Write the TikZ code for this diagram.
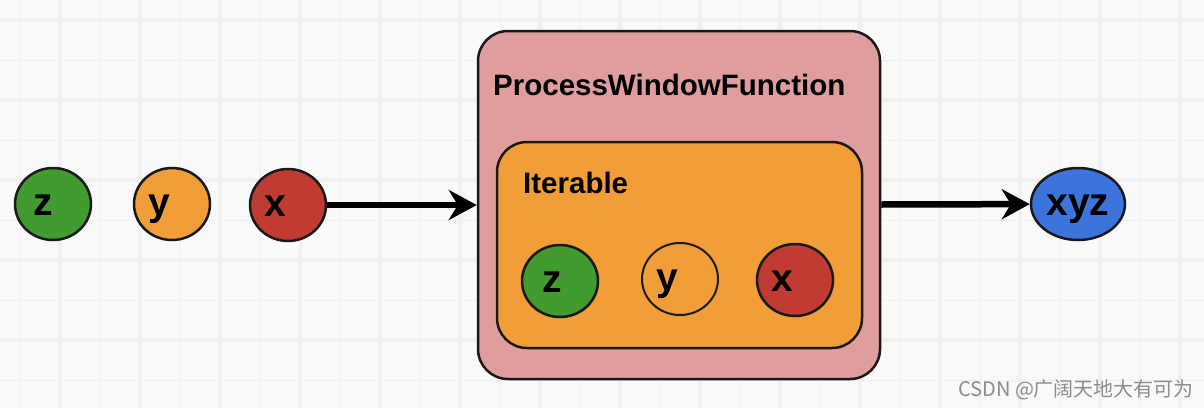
\documentclass[tikz,border=0pt]{standalone}
\usepackage{fontspec}
\setmainfont{Liberation Sans}
\newfontfamily\cjkfont{Noto Sans CJK SC}
\usetikzlibrary{arrows.meta,positioning,shapes.geometric}
\definecolor{gridbg}{HTML}{F9F9F9}
\definecolor{gridthin}{HTML}{EFEFEF}
\definecolor{gridthick}{HTML}{F0F0F0}
\definecolor{elemgreen}{HTML}{419B2F}
\definecolor{elemorange}{HTML}{F29E38}
\definecolor{elemred}{HTML}{C03C33}
\definecolor{elemblue}{HTML}{3D74DB}
\definecolor{winpink}{HTML}{E09D9E}
\definecolor{markgray}{HTML}{8C8C8C}

\begin{document}
\begin{tikzpicture}[x=1pt,y=-1pt,
    ball/.style={draw=black!90,ellipse,line width=2.5pt,minimum width=76pt,minimum height=72pt,inner sep=0pt},
    ballname/.style={font=\bfseries\fontsize{39}{39}\selectfont,inner sep=0pt,text depth=0pt,yshift=-1pt},
    winbox/.style={draw=black!90,rounded corners=30pt,line width=2.5pt},
    boxname/.style={font=\bfseries\fontsize{29.5}{29.5}\selectfont,anchor=base west,inner sep=0pt},
    flow/.style={line width=6.5pt,-{Stealth[length=28pt,width=30pt]}}]
    % grid paper
    \useasboundingbox (0,0) rectangle (1204,408);
    \fill[gridbg] (0,0) rectangle (1204,408);
    \foreach \gx in {20,100,...,1140} \draw[gridthin,line width=1pt] (\gx,0) -- (\gx,408);
    \foreach \gx in {60,140,...,1180} \draw[gridthick,line width=4pt] (\gx,0) -- (\gx,408);
    \foreach \gy in {60,140,...,380} \draw[gridthin,line width=1pt] (0,\gy) -- (1204,\gy);
    \foreach \gy in {20,100,...,340} \draw[gridthick,line width=4pt] (0,\gy) -- (1204,\gy);

    % incoming elements
    \node[ball,fill=elemgreen,label={[ballname,xshift=-10pt]center:z}] (z) at (53,204) {};
    \node[ball,fill=elemorange,label={[ballname,xshift=-13pt]center:y}] (y) at (172,204) {};
    \node[ball,fill=elemred,label={[ballname,xshift=-13pt]center:x}] (x) at (288,205) {};

    % window function
    \node[winbox,fill=winpink,minimum width=402pt,minimum height=348pt] (pwf) at (679,205) {};
    \node[boxname] (pwfname) at (493,95) {ProcessWindowFunction};
    \node[winbox,fill=elemorange,minimum width=365pt,minimum height=206pt] (it) at (679.5,245) {};
    \node[boxname] (itname) at (523,193) {Iterable};
    \node[ball,fill=elemgreen,label={[ballname,xshift=-8pt]center:z}] (iz) at (560,281) {};
    \node[ball,line width=2pt,label={[ballname,xshift=-13pt]center:y}] (iy) at (680,279) {};
    \node[ball,fill=elemred,label={[ballname,xshift=-13pt]center:x}] (ix) at (795,280) {};

    % result
    \node[ball,fill=elemblue,minimum width=94pt,label={[ballname]center:xyz}] (xyz) at (1078,204) {};

    \draw[flow] (x) -- (pwf);
    \draw[flow] (pwf) -- (xyz);

    \node[font=\cjkfont\fontsize{20}{20}\selectfont,text=markgray,anchor=base west,inner sep=0pt] (mark) at (958,396) {CSDN @广阔天地大有可为};
  \end{tikzpicture}
\end{document}
